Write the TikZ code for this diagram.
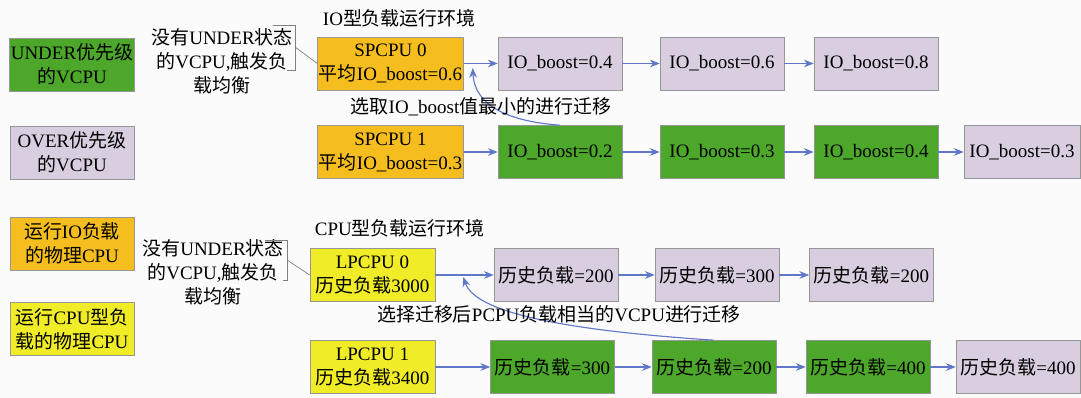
\documentclass[tikz,border=0pt]{standalone}
\usepackage{fontspec}
\setmainfont{Liberation Serif}
\newfontfamily\cjk{Noto Sans CJK SC}
\newcommand\hz[1]{{\cjk #1}}
\usepackage{xcolor}
\usetikzlibrary{arrows.meta}
\definecolor{vgreen}{RGB}{76,167,42}
\definecolor{vlav}{RGB}{217,206,224}
\definecolor{vorange}{RGB}{245,190,30}
\definecolor{vyellow}{RGB}{240,236,40}
\definecolor{vblue}{RGB}{95,120,200}
\definecolor{boxgray}{RGB}{150,150,150}
\definecolor{bgpaper}{RGB}{251,251,251}

\begin{document}
\begin{tikzpicture}[x=0.025cm,y=-0.025cm,
  every node/.style={font=\fontsize{13.5}{17}\selectfont},
  box/.style={draw=boxgray,minimum width=3.1cm,minimum height=1.325cm,inner sep=1pt,align=center},
  under/.style={box,fill=vgreen},
  over/.style={box,fill=vlav},
  io/.style={box,fill=vorange},
  cpu/.style={box,fill=vyellow},
  link/.style={vblue,line width=0.8pt,-{Stealth[length=7pt,width=5.5pt]}},
  callout/.style={gray,line width=0.5pt},
  note/.style={align=center,inner sep=1pt}]
 \useasboundingbox[fill=bgpaper] (0,0) rectangle (1081,398);

 % legend
 \node[under] (lunder) at (72,64.5) {UNDER\hz{优先级}\\\hz{的}VCPU};
 \node[over] (lover) at (72,152.5) {OVER\hz{优先级}\\\hz{的}VCPU};
 \node[io] (lio) at (72,243.5) {\hz{运行}IO\hz{负载}\\\hz{的物理}CPU};
 \node[cpu] (lcpu) at (72,329) {\hz{运行}CPU\hz{型负}\\\hz{载的物理}CPU};

 % IO environment
 \node at (318,18)[anchor=west] (tio) {IO\hz{型负载运行环境}};
 \node[io,minimum width=3.625cm] (s0) at (390.5,63.5) {SPCPU 0\\\hz{平均}IO\_boost=0.6};
 \node[over] (i1) at (560,63.5) {IO\_boost=0.4};
 \node[over] (i2) at (722,63.5) {IO\_boost=0.6};
 \node[over] (i3) at (876,63.5) {IO\_boost=0.8};

 \node[io,minimum width=3.625cm] (s1) at (390.5,152) {SPCPU 1\\\hz{平均}IO\_boost=0.3};
 \node[under] (j1) at (560,152) {IO\_boost=0.2};
 \node[under] (j2) at (722,152) {IO\_boost=0.3};
 \node[under] (j3) at (876,152) {IO\_boost=0.4};
 \node[over,minimum width=2.9cm] (j4) at (1022,152) {IO\_boost=0.3};

 \draw[link] (s0) -- (i1);
 \draw[link] (i1) -- (i2);
 \draw[link] (i2) -- (i3);
 \draw[link] (s1) -- (j1);
 \draw[link] (j1) -- (j2);
 \draw[link] (j2) -- (j3);
 \draw[link] (j3) -- (j4);

 \node[note] (n1) at (222,61) {\hz{没有}UNDER\hz{状态}\\\hz{的}VCPU,\hz{触发负}\\\hz{载均衡}};
 \coordinate (c1) at (295,47);
 \draw[callout] (273,25) -| (295,70) -- (287,70);
 \draw[callout] (c1) -- (s0.west);

 \draw[link] (j1.north) .. controls (490,120) and (474,95) .. ([xshift=0.225cm,yshift=-0.11cm]s0.east);
 \node (m1) at (481,107) {\hz{选取}IO\_boost\hz{值最小的进行迁移}};

 % CPU environment
 \node at (310,228)[anchor=west] (tcpu) {CPU\hz{型负载运行环境}};
 \node[cpu,minimum width=3.125cm] (p0) at (372.5,275) {LPCPU 0\\\hz{历史负载}3000};
 \node[over] (h1) at (556,275) {\hz{历史负载}=200};
 \node[over] (h2) at (717,275) {\hz{历史负载}=300};
 \node[over] (h3) at (871.5,275) {\hz{历史负载}=200};

 \node[cpu,minimum width=3.125cm] (p1) at (372.5,367) {LPCPU 1\\\hz{历史负载}3400};
 \node[under] (k1) at (552.5,367) {\hz{历史负载}=300};
 \node[under] (k2) at (714,367) {\hz{历史负载}=200};
 \node[under] (k3) at (868,367) {\hz{历史负载}=400};
 \node[over] (k4) at (1018,367) {\hz{历史负载}=400};

 \draw[link] (p0) -- (h1);
 \draw[link] (h1) -- (h2);
 \draw[link] (h2) -- (h3);
 \draw[link] (p1) -- (k1);
 \draw[link] (k1) -- (k2);
 \draw[link] (k2) -- (k3);
 \draw[link] (k3) -- (k4);

 \node[note] (n2) at (213,272) {\hz{没有}UNDER\hz{状态}\\\hz{的}VCPU,\hz{触发负}\\\hz{载均衡}};
 \coordinate (c2) at (287,260);
 \draw[callout] (265,240) -| (287,280) -- (283,280);
 \draw[callout] (c2) -- (p0.west);

 \draw[link] (k2.north) .. controls (560,330) and (475,312) .. ([xshift=0.7cm,yshift=-0.05cm]p0.east);
 \node (m2) at (559,314) {\hz{选择迁移后}PCPU\hz{负载相当的}VCPU\hz{进行迁移}};

\end{tikzpicture}
\end{document}
